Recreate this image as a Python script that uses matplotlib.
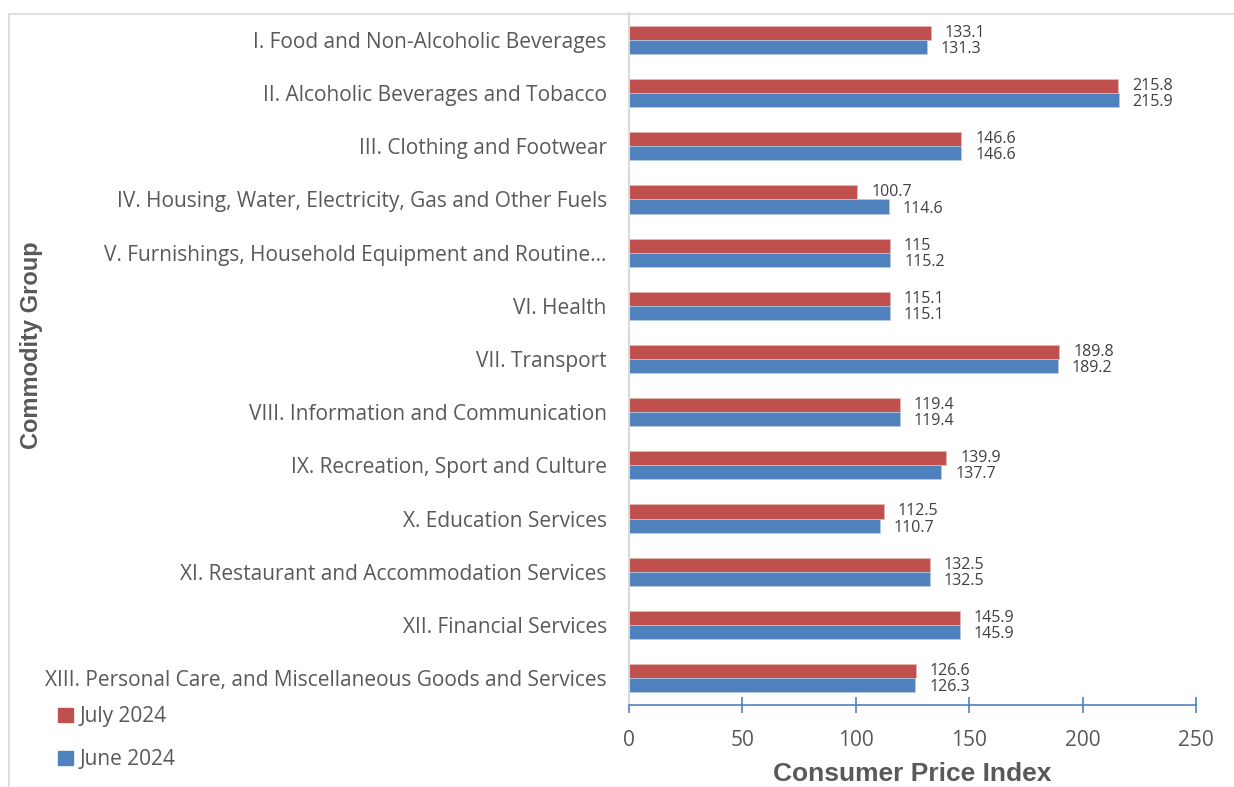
import numpy as np
import matplotlib
matplotlib.use("Agg")
import matplotlib.pyplot as plt
from matplotlib.patches import Patch, Rectangle

# data
groups = [
    "I. Food and Non-Alcoholic Beverages",
    "II. Alcoholic Beverages and Tobacco",
    "III. Clothing and Footwear",
    "IV. Housing, Water, Electricity, Gas and Other Fuels",
    "V. Furnishings, Household Equipment and Routine\u2026",
    "VI. Health",
    "VII. Transport",
    "VIII. Information and Communication",
    "IX. Recreation, Sport and Culture",
    "X. Education Services",
    "XI. Restaurant and Accommodation Services",
    "XII. Financial Services",
    "XIII. Personal Care, and Miscellaneous Goods and Services",
]
july = [133.1, 215.8, 146.6, 100.7, 115, 115.1, 189.8, 119.4, 139.9, 112.5, 132.5, 145.9, 126.6]
june = [131.3, 215.9, 146.6, 114.6, 115.2, 115.1, 189.2, 119.4, 137.7, 110.7, 132.5, 145.9, 126.3]
xticks = [0, 50, 100, 150, 200, 250]

red = "#C0504D"
blue = "#4F81BD"
txt = "#595959"
font = "Open Sans"

W, H = 1234, 787
fig = plt.figure(figsize=(W / 100, H / 100), dpi=100)
plt.rcParams['font.family'] = [font, 'DejaVu Sans']

# chart frame
fig.patches.append(Rectangle((9 / W, -0.1), 1.2, 1 - 14 / H + 0.1, transform=fig.transFigure,
                             fill=False, edgecolor="#D9D9D9", linewidth=1.2))

ax = fig.add_axes([629 / W, 1 - 704.6 / H, (1196 - 629) / W, (704.6 - 13.4) / H])

y = np.arange(len(groups))
h = 0.265
ax.barh(y - h / 2, july, height=h, color=red, edgecolor="#E6B9B8", linewidth=0.5, label="July 2024")
ax.barh(y + h / 2, june, height=h, color=blue, edgecolor="#B9CDE5", linewidth=0.5, label="June 2024")

# value labels, packed tight like the original
for i in range(len(groups)):
    ax.annotate(str(july[i]), (july[i], y[i] - h / 2), xytext=(10, 0), textcoords="offset points",
                va="center", ha="left", fontsize=11.5, color="#404040", family=font)
    ax.annotate(str(june[i]), (june[i], y[i] + h / 2), xytext=(10, -1.5), textcoords="offset points",
                va="center", ha="left", fontsize=11.5, color="#404040", family=font)

ax.set_ylim(len(groups) - 0.5, -0.5)
ax.set_xlim(0, 250)
ax.set_yticks(y)
ax.set_yticklabels(groups, fontsize=15, color=txt)
ax.tick_params(axis="y", length=0, pad=16)
ax.set_xticks(xticks)
ax.set_xticklabels([str(t) for t in xticks], fontsize=15, color=txt)
ax.tick_params(axis="x", direction="inout", length=12, width=1.2, color=blue, pad=12)

for s in ["top", "right"]:
    ax.spines[s].set_visible(False)
ax.spines["left"].set_color("#D9D9D9")
ax.spines["left"].set_linewidth(1.5)
ax.spines["bottom"].set_color(blue)
ax.spines["bottom"].set_linewidth(1.2)

ax.set_xlabel("Consumer Price Index", fontsize=19, fontweight="bold", color=txt,
              family="Liberation Sans", labelpad=8)
fig.text(32 / W, 1 - 345 / H, "Commodity Group", rotation=90, fontsize=17, fontweight="bold",
         color=txt, family="Liberation Sans", ha="center", va="center")

handles = [Patch(color=red), Patch(color=blue)]
fig.legend(handles, ["July 2024", "June 2024"], loc="upper left",
           bbox_to_anchor=(48 / W, 1 - 696 / H), frameon=False, fontsize=15,
           handlelength=0.7, handleheight=0.7, handletextpad=0.3, labelspacing=1.05,
           borderpad=0, labelcolor=txt)

fig.savefig("out.png", dpi=100)
